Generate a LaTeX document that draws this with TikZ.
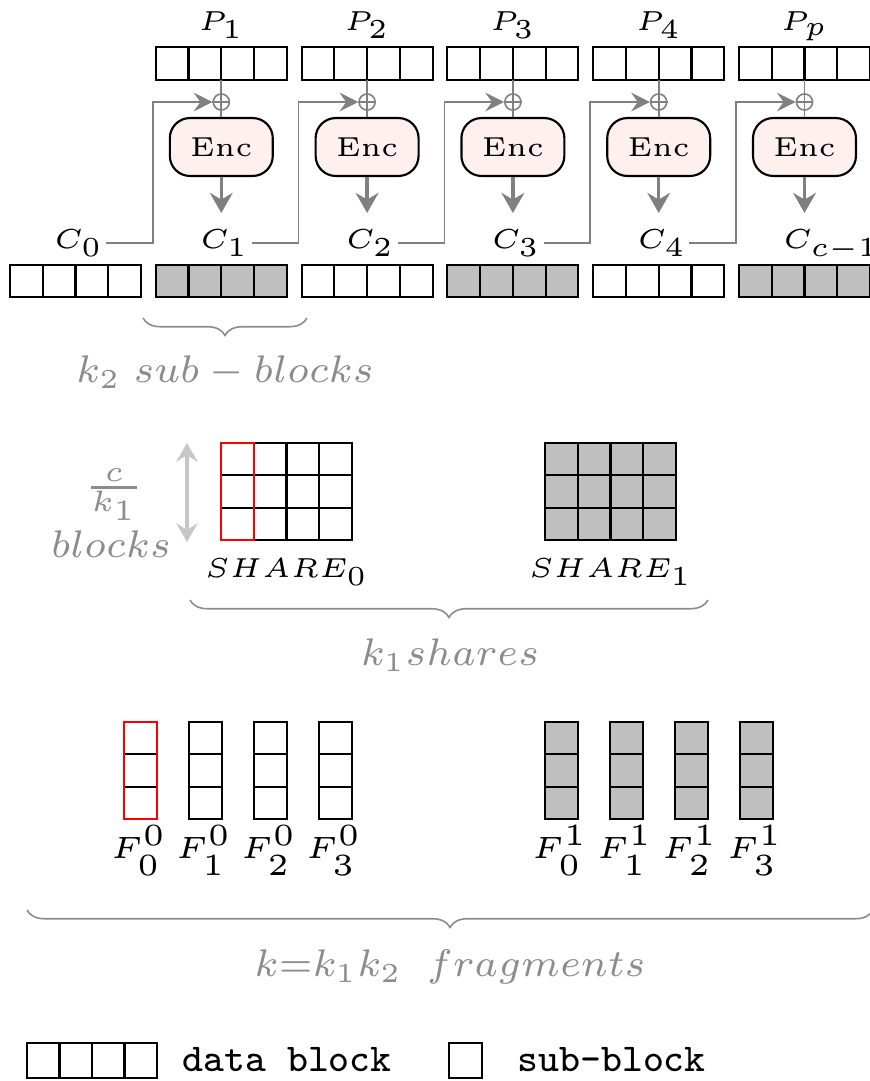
\documentclass[tikz,border=0pt]{standalone}
\usepackage{graphicx}
\usetikzlibrary{arrows.meta,decorations.pathreplacing}

\newcommand{\wideText}[1]{\scalebox{2.05}{\tiny #1}}
\newcommand{\fragText}[1]{\scalebox{2.3}{\tiny #1}}
\newcommand{\grayText}[1]{\scalebox{2.05}{\scriptsize #1}}

\tikzset{
  subBlocks/.style={draw=black, thick},
  encBox/.style={draw, thick, rounded corners=7.5pt, fill=red!6, minimum width=38.4pt, minimum height=21.6pt, inner sep=0pt},
  xorNode/.style={circle, draw=black!50, semithick, minimum size=6pt, inner sep=0pt},
  chainLine/.style={draw=black!50, semithick},
  chainArrow/.style={chainLine, -{Stealth[length=7pt, width=7pt, inset=2.5pt]}},
  encArrow/.style={draw=black!50, very thick, -{Stealth[length=7.5pt, width=8.5pt, inset=2.5pt]}},
  sizeArrow/.style={draw=black!22, very thick, {Stealth[length=7pt, width=8pt, inset=2.5pt]}-{Stealth[length=7pt, width=8pt, inset=2.5pt]}},
  grayLabel/.style={text=black!45},
  braceLine/.style={draw=black!45, semithick, decorate, decoration={brace, amplitude=6.5pt}},
}

\begin{document}
\begin{tikzpicture}[x=0.373pt, y=-0.373pt]
  \useasboundingbox (0,0) rectangle (869,1081);

  % plaintext blocks, xor and Enc
  \foreach \i/\pname in {1/P_1, 2/P_2, 3/P_3, 4/P_4, 5/P_p} {
    \pgfmathsetmacro{\xl}{10+145.8*\i}
    \pgfmathsetmacro{\xc}{\xl+65.5}
    \draw[subBlocks] (\xl,47) rectangle ++(131,33);
    \foreach \k in {1,2,3} \draw[subBlocks] (\xl+32.75*\k,47) -- ++(0,33);
    \node[anchor=base] (P\i) at (\xc,30) {\wideText{$\pname$}};
    \coordinate (pBottom\i) at (\xc,80);
    \node[xorNode] (xor\i) at (\xc,102) {};
    \node[encBox] (enc\i) at (\xc,147) {\wideText{Enc}};
    \coordinate (cTop\i) at (\xc,213);
    \draw[chainLine] (pBottom\i) -- (enc\i.north);
    \draw[chainLine] (xor\i.west) -- (xor\i.east);
    \draw[encArrow] (enc\i.south) -- (cTop\i);
  }

  % ciphertext blocks
  \foreach \i/\cname/\cfill in {0/C_0/white, 1/C_1/black!25, 2/C_2/white, 3/C_3/black!25, 4/C_4/white, 5/{C_{c-1}}/black!25} {
    \pgfmathsetmacro{\xl}{10+145.8*\i}
    \draw[subBlocks, fill=\cfill] (\xl,265) rectangle ++(131,32);
    \foreach \k in {1,2,3} \draw[subBlocks] (\xl+32.75*\k,265) -- ++(0,32);
    \node[anchor=base west, inner sep=1pt] (C\i) at (\xl+41,248) {\wideText{$\cname$}};
  }

  % chaining
  \foreach \i/\j in {0/1, 1/2, 2/3, 3/4, 4/5} {
    \coordinate (bend\j) at (10+145.8*\j-3,102);
    \draw[chainArrow] (C\i.east) -| (bend\j) -- (xor\j.west);
  }

  \draw[braceLine] (307,318) -- (143,318);
  \node[grayLabel] (subBlocksLabel) at (225,372) {\grayText{$k_2\;sub-blocks$}};

  % shares
  \foreach \s/\sx/\sfill in {0/221/white, 1/545/black!25} {
    \draw[subBlocks, fill=\sfill] (\sx,443) rectangle ++(131,97);
    \foreach \k in {1,2,3} \draw[subBlocks] (\sx+32.75*\k,443) -- ++(0,97);
    \foreach \r in {1,2} \draw[subBlocks] (\sx,443+32.3*\r) -- ++(131,0);
    \node[anchor=base] (share\s) at (\sx+65.5,577) {\wideText{$SHARE_\s$}};
  }
  \draw[red, thick] (221,443) rectangle ++(32.75,97);

  \coordinate (rowsTop) at (187,443);
  \coordinate (rowsBottom) at (187,542);
  \draw[sizeArrow] (rowsTop) -- (rowsBottom);
  \node[grayLabel] (rowsFrac) at (114,495) {\scalebox{2.2}{\scriptsize $\frac{c}{k_1}$}};
  \node[grayLabel, anchor=base] (rowsLabel) at (111,557) {\grayText{$blocks$}};

  \draw[braceLine] (708,600) -- (190,600);
  \node[grayLabel] (sharesLabel) at (450,655) {\grayText{$k_1shares$}};

  % fragments
  \foreach \g/\gx/\gfill in {0/124/white, 1/545/black!25} {
    \foreach \f in {0,...,3} {
      \pgfmathsetmacro{\fx}{\gx+65*\f}
      \draw[subBlocks, fill=\gfill] (\fx,722) rectangle ++(32.75,97);
      \foreach \r in {1,2} \draw[subBlocks] (\fx,722+32.3*\r) -- ++(32.75,0);
      \node[anchor=base, inner sep=0pt] (frag\g\f) at (\fx+15,858) {\fragText{$F^\g_\f$}};
    }
  }
  \draw[red, thick] (124,722) rectangle ++(32.75,97);

  \draw[braceLine] (873,910) -- (27,910);
  \node[grayLabel] (fragmentsLabel) at (450,967) {\grayText{$k{=}k_1k_2\;\;fragments$}};

  % legend
  \draw[subBlocks] (27,1043) rectangle ++(130,35);
  \foreach \k in {1,2,3} \draw[subBlocks] (27+32.5*\k,1043) -- ++(0,35);
  \node[anchor=west] (dataBlockText) at (173,1060) {\scalebox{2.1}{\scriptsize\ttfamily data block}};
  \draw[subBlocks] (449,1043) rectangle ++(33,35);
  \node[anchor=west] (subBlockText) at (508,1060) {\scalebox{2.1}{\scriptsize\ttfamily sub-block}};
\end{tikzpicture}
\end{document}
